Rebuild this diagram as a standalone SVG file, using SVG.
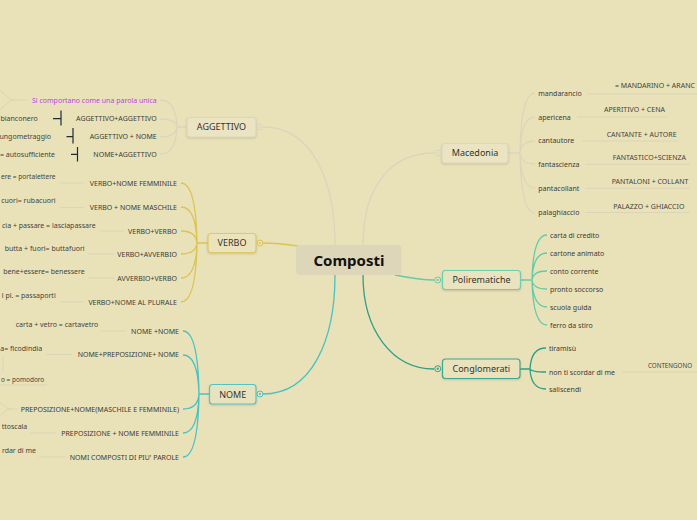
<svg xmlns="http://www.w3.org/2000/svg" width="697" height="520" viewBox="0 0 697 520">
<defs>
<style>
.t{font-family:"Noto Sans","Open Sans",sans-serif;font-size:7px;fill:#3d3b35}
.s{font-family:"Noto Sans","Open Sans",sans-serif;font-size:7px;fill:#45433c}
.n{font-family:"Noto Sans","Open Sans",sans-serif;font-size:9px;fill:#35332e}
.e{text-anchor:end}
.g{fill:none;stroke:#dcd5bb;stroke-width:1.3}
.y{fill:none;stroke:#dcc354;stroke-width:1.3}
.c{fill:none;stroke:#48c2c2;stroke-width:1.3}
.m{fill:none;stroke:#63cba8;stroke-width:1.3}
.d{fill:none;stroke:#2f9f88;stroke-width:1.3}
.u{fill:none;stroke:#dbd4b6;stroke-width:1}
.k{fill:none;stroke:#1e2c38;stroke-width:1.2}
.box{stroke-width:1.2}
</style>
<filter id="sh" x="-20%" y="-30%" width="140%" height="170%">
<feDropShadow dx="0" dy="1" stdDeviation="0.8" flood-color="#8a8060" flood-opacity="0.35"/>
</filter>
</defs>
<rect width="697" height="520" fill="#e9e2b9"/>

<g id="connectors">
<path class="g" stroke-width="1.8" d="M335 245 C335 180 312 127 263 127"/>
<path class="y" stroke-width="2" d="M298 246 C285 244 276 243 263 243"/>
<path class="c" stroke-width="2" d="M335 275 C335 340 312 394 263 394"/>
<path class="g" stroke-width="1.8" d="M363 245 C363 185 392 153 434 153"/>
<path class="m" stroke-width="2" d="M395 275 C410 278 420 280 434 280"/>
<path class="d" stroke-width="2" d="M363 275 C363 330 392 369 434 369"/>
<path class="g" d="M187 127 L177 127 M177 127 Q176 100 160 100 M177 127 Q176 119 160 119 M177 127 Q176 137 160 137 M177 127 Q176 154 160 154"/>
<path class="y" d="M208 243 L197 243 M197 243 Q196 183 181 183 M197 243 Q196 207 181 207 M197 243 Q196 231 181 231 M197 243 Q196 254 181 254 M197 243 Q196 278 181 278 M197 243 Q196 302 181 302"/>
<path class="c" d="M209 394 L199 394 M199 394 Q198 331 183 331 M199 394 Q198 355 183 355 M199 394 Q198 409 183 409 M199 394 Q198 433 183 433 M199 394 Q198 457 183 457"/>
<path class="g" d="M508 153 L520 153 M520 153 Q521 93 535 93 M520 153 Q521 117 535 117 M520 153 Q521 141 535 141 M520 153 Q521 164 535 164 M520 153 Q521 188 535 188 M520 153 Q521 213 535 213"/>
<path class="m" d="M520 280 L532 280 M532 280 Q533 235 547 235 M532 280 Q533 253 547 253 M532 280 Q533 271 547 271 M532 280 Q533 289 547 289 M532 280 Q533 307 547 307 M532 280 Q533 325 547 325"/>
<path class="d" d="M520 369 L530 369 M530 369 Q531 348 546 348 M530 369 Q531 372 546 372 M530 369 Q531 389 546 389"/>
<path class="u" d="M27 100 L14 100 C8 100 5 93 0 91 M14 100 C8 100 5 107 0 109"/>
<path class="k" d="M53 118.7 L61 118.7 M61 110.5 L61 125.5 M66.5 136.7 L73 136.7 M73 128 L73 143.5 M71 154.3 L77.5 154.3 M77.5 147 L77.5 161.5"/>
<path class="u" d="M60 183 L84 183 M60 207.5 L84 207.5 M100 231 L124 231 M88 254 L114 254 M88 278 L114 278 M60 302 L84 302"/>
<path class="u" d="M101 331 L126 331 M46 354.5 L72 354.5 M3 356 L3 371 M0 385 L47 385 M30 433 L56 433 M39 457 L66 457"/>
<path class="u" d="M17 409 L10 409 C6 409 4 404 0 403 M10 409 C6 409 4 414 0 415"/>
<path class="u" d="M587 94 L697 94 M577 117 L667 117 M582 141 L678 141 M585 164.3 L690 164.3 M585 188.3 L690 188.3 M585 212.5 L690 212.5 M622 372 L697 372"/>
</g>

<g id="composti">
<rect x="296" y="245" width="105.5" height="30" rx="4" fill="#ddd6b8"/>
<text x="349" y="266.3" text-anchor="middle" font-family="'Noto Sans','Open Sans',sans-serif" font-size="15" font-weight="bold" fill="#111">Composti</text>
</g>

<g id="aggettivo">
<rect class="box" x="187" y="117.5" width="69" height="19.5" rx="3" fill="#ebe4c3" stroke="#ddd6bb" filter="url(#sh)"/>
<text class="n" x="221.5" y="130.3" text-anchor="middle">AGGETTIVO</text>
<circle cx="260" cy="127" r="3" fill="#e9e2b9" stroke="#dcd5bb"/>
<circle cx="260" cy="127" r="1.1" fill="#dcd5bb"/>
</g>
<g id="verbo">
<rect class="box" x="208" y="233.5" width="48" height="19" rx="3" fill="#ebe3bc" stroke="#e0c964" filter="url(#sh)"/>
<text class="n" x="232" y="246.3" text-anchor="middle">VERBO</text>
<circle cx="260" cy="243" r="3" fill="#e9e2b9" stroke="#dcc354"/>
<circle cx="260" cy="243" r="1.1" fill="#dcc354"/>
</g>
<g id="nome">
<rect class="box" x="209.5" y="384.5" width="46.5" height="19.5" rx="3" fill="#e8e3bf" stroke="#4fc6c6" filter="url(#sh)"/>
<text class="n" x="232.7" y="397.5" text-anchor="middle">NOME</text>
<circle cx="260" cy="394" r="3" fill="#e9e2b9" stroke="#48c2c2"/>
<circle cx="260" cy="394" r="1.1" fill="#48c2c2"/>
</g>
<g id="macedonia">
<rect class="box" x="442" y="143.5" width="66" height="19.5" rx="3" fill="#ebe4c3" stroke="#ddd6bb" filter="url(#sh)"/>
<text class="n" x="475" y="156.3" text-anchor="middle">Macedonia</text>
<circle cx="437.7" cy="153" r="3" fill="#e9e2b9" stroke="#dcd5bb"/>
<circle cx="437.7" cy="153" r="1.1" fill="#dcd5bb"/>
</g>
<g id="polirematiche">
<rect class="box" x="442.5" y="270.5" width="78" height="19" rx="3" fill="#e9e3bf" stroke="#6dcfae" filter="url(#sh)"/>
<text class="n" x="481.5" y="283.3" text-anchor="middle">Polirematiche</text>
<circle cx="437.7" cy="280" r="3" fill="#e9e2b9" stroke="#63cba8"/>
<circle cx="437.7" cy="280" r="1.1" fill="#63cba8"/>
</g>
<g id="conglomerati">
<rect class="box" x="442.5" y="359" width="77.5" height="19.5" rx="3" fill="#e9e2bd" stroke="#3aa890" filter="url(#sh)"/>
<text class="n" x="481.3" y="372" text-anchor="middle">Conglomerati</text>
<circle cx="437.7" cy="368.7" r="3" fill="#e9e2b9" stroke="#2f9f88"/>
<circle cx="437.7" cy="368.7" r="1.1" fill="#2f9f88"/>
</g>

<g id="aggettivo-children">
<text class="t e" x="156.7" y="102.5" style="fill:#b548e0">Si comportano come una parola unica</text>
<text class="t e" x="156.7" y="121.2">AGGETTIVO+AGGETTIVO</text>
<text class="t e" x="156.7" y="139.2">AGGETTIVO + NOME</text>
<text class="t e" x="156.7" y="156.8">NOME+AGGETTIVO</text>
<text class="s e" x="37.7" y="121.2">bianconero</text>
<text class="s e" x="51" y="139.2">ungometraggio</text>
<text class="s e" x="55" y="156.8">= autosufficiente</text>
</g>
<g id="verbo-children">
<text class="t e" x="177" y="185.8">VERBO+NOME FEMMINILE</text>
<text class="t e" x="177" y="210.2">VERBO + NOME MASCHILE</text>
<text class="t e" x="177" y="233.8">VERBO+VERBO</text>
<text class="t e" x="177" y="256.8">VERBO+AVVERBIO</text>
<text class="t e" x="177" y="280.8">AVVERBIO+VERBO</text>
<text class="t e" x="177" y="304.8">VERBO+NOME AL PLURALE</text>
<text class="s" x="1" y="179.2" textLength="54.5" lengthAdjust="spacingAndGlyphs">ere = portalettere</text>
<text class="s e" x="55.7" y="202.8">cuori= rubacuori</text>
<text class="s e" x="95.7" y="227.5">cia + passare = lasciapassare</text>
<text class="s e" x="84.7" y="251.2">butta + fuori= buttafuori</text>
<text class="s e" x="84.7" y="273.5">bene+essere= benessere</text>
<text class="s e" x="55.7" y="298.2">l pl. = passaporti</text>
</g>
<g id="nome-children">
<text class="t e" x="179" y="333.5">NOME +NOME</text>
<text class="t e" x="179" y="357.2">NOME+PREPOSIZIONE+ NOME</text>
<text class="t e" x="179" y="411.8">PREPOSIZIONE+NOME(MASCHILE E FEMMINILE)</text>
<text class="t e" x="179" y="435.8">PREPOSIZIONE + NOME FEMMINILE</text>
<text class="t e" x="179" y="459.8">NOMI COMPOSTI DI PIU' PAROLE</text>
<text class="s e" x="98.3" y="326.8">carta + vetro = cartavetro</text>
<text class="s e" x="42.3" y="351.2">a= ficodindia</text>
<text class="s" x="1" y="381.5" textLength="43.3" lengthAdjust="spacingAndGlyphs">o = pomodoro</text>
<text class="s e" x="27.3" y="428.5">ttoscala</text>
<text class="s e" x="36" y="453.2">rdar di me</text>
</g>
<g id="macedonia-children">
<text class="t" x="538.3" y="95.8">mandarancio</text>
<text class="t" x="538.3" y="119.8">apericena</text>
<text class="t" x="538.3" y="143.2">cantautore</text>
<text class="t" x="538.3" y="166.8">fantascienza</text>
<text class="t" x="538.3" y="190.8">pantacollant</text>
<text class="t" x="538.3" y="215.2">palaghiaccio</text>
<text class="s" x="615" y="88.2" textLength="80" lengthAdjust="spacingAndGlyphs">= MANDARINO + ARANC</text>
<text class="s" x="604" y="112.2">APERITIVO + CENA</text>
<text class="s" x="606.7" y="136.8">CANTANTE + AUTORE</text>
<text class="s" x="612.7" y="160.2">FANTASTICO+SCIENZA</text>
<text class="s" x="611.7" y="183.8">PANTALONI + COLLANT</text>
<text class="s" x="613.3" y="208.5">PALAZZO + GHIACCIO</text>
</g>
<g id="polirematiche-children">
<text class="t" x="550" y="237.8">carta di credito</text>
<text class="t" x="550" y="255.8">cartone animato</text>
<text class="t" x="550" y="273.8">conto corrente</text>
<text class="t" x="550" y="291.8">pronto soccorso</text>
<text class="t" x="550" y="309.8">scuola guida</text>
<text class="t" x="550" y="327.5">ferro da stiro</text>
</g>
<g id="conglomerati-children">
<text class="t" x="549" y="350.5">tiramisù</text>
<text class="t" x="549" y="374.5">non ti scordar di me</text>
<text class="t" x="549" y="391.8">saliscendi</text>
<text class="s" x="648" y="367.5" textLength="44" lengthAdjust="spacingAndGlyphs">CONTENGONO</text>
</g>
</svg>
